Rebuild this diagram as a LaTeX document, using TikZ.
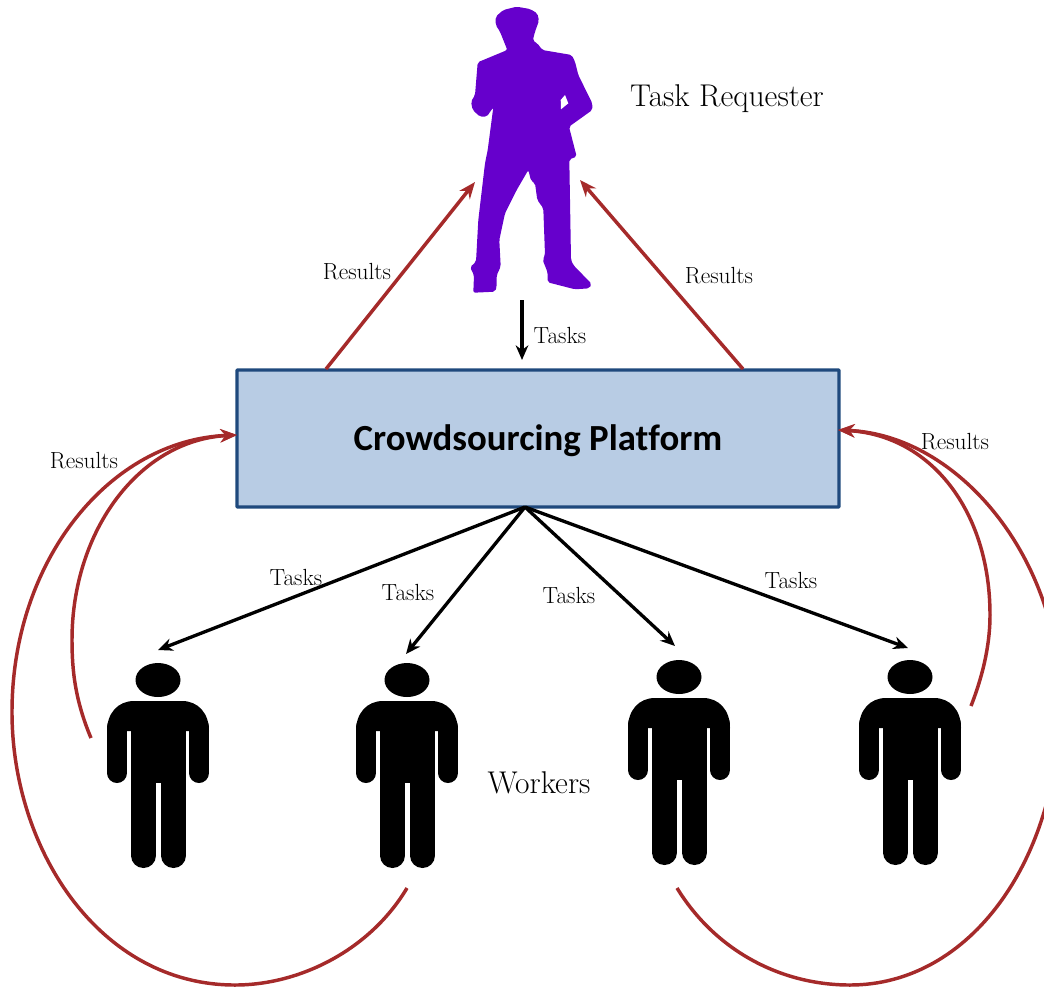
\documentclass[tikz,border=0pt]{standalone}
\usepackage{fontspec}
\newfontfamily\platformfont[Ligatures=NoCommon]{Carlito}
\usetikzlibrary{arrows.meta}
\definecolor{requesterviolet}{RGB}{102,0,204}
\definecolor{resultred}{RGB}{165,42,42}
\definecolor{platformfill}{RGB}{184,204,228}
\definecolor{platformrand}{RGB}{31,73,125}
\tikzset{
    taskpfeil/.style={line width=2.5pt, -{Stealth[length=11pt,width=9.5pt]}},
    resultpfeil/.style={line width=2.6pt, resultred, -{Stealth[length=12.5pt,width=10pt]}},
    klein/.style={font=\fontsize{17.5}{17.5}\selectfont},
    gross/.style={font=\fontsize{23.6}{23.6}\selectfont},
    worker/.pic={
        \fill (0,-21) ellipse [x radius=22.5, y radius=17];
        \fill (-51,30) .. controls (-51,12) and (-40,0) .. (-24,0) -- (24,0) .. controls (40,0) and (51,12) .. (51,30) -- cycle;
        \fill (-27,0) rectangle (28,82);
        \draw [line width=15pt, line cap=round] (-41,26) -- (-41,72);
        \draw [line width=15pt, line cap=round] (41,26) -- (41,72);
        \draw [line width=18.75pt, line cap=round] (-14.5,60) -- (-14.5,154.5);
        \draw [line width=18.75pt, line cap=round] (15.5,60) -- (15.5,154.5);
    }
}
\begin{document}
\begin{tikzpicture}[x=0.75pt, y=-0.75pt]

        \useasboundingbox (0,0) rectangle (1044,986);
        \clip (0,0) rectangle (1044,986);

        % Auftraggeber
        \fill [requesterviolet, rounded corners=1.5pt] (495.7,16.7) -- (503.3,10) -- (516.7,6.7) -- (530,9) -- (537.3,13.3) -- (539,20.7) -- (535,31.7) -- (532.7,40.7) -- (537.3,43.3) -- (542.3,50) -- (571.7,55) -- (575,61.7) -- (578.3,75) -- (592.3,103.3) -- (592.3,110) -- (569,126.7) -- (576.7,156.7) -- (569.3,159.3) -- (570,200) -- (571,260) -- (573.3,265) -- (591.7,284) -- (589.3,288.3) -- (575,289.3) -- (547.7,282.3) -- (547.7,272.7) -- (542.7,260) -- (545,255) -- (543.3,208.3) -- (537.3,200) -- (535,183.3) -- (531,180.7) -- (528.3,170) -- (516.7,190) -- (505,213.3) -- (499.3,240) -- (500.7,266.7) -- (496.7,275) -- (496.7,286.7) -- (495,291.7) -- (473.3,292.7) -- (474,275) -- (470,267.3) -- (476,261.7) -- (478.3,220) -- (485,163.3) -- (487.7,150) -- (493.3,107.3) -- (486.7,116.7) -- (480,116.7) -- (472.7,110) -- (471,101.7) -- (475,95) -- (477.7,62.3) -- (507.3,50) -- (500,31.7) -- (495.7,25) -- cycle;
        \fill [white] (565,95) -- (568.3,103.3) -- (561,109.3) -- (560.7,100) -- cycle;

        \node [draw=platformrand, line width=2.5pt, rounded corners=0.5pt, fill=platformfill, minimum width=451.5pt, minimum height=102.75pt, font=\platformfont\bfseries\fontsize{27.6}{27.6}\selectfont] (platform) at (538,438.5) {\raisebox{-9pt}[0pt][0pt]{Crowdsourcing Platform}};

        % Arbeiter
        \foreach \xpos/\ypos in {158/701, 407/701, 679/698, 910/698}
            \pic at (\xpos,\ypos) {worker};

        \coordinate (verteiler) at (525,507);
        \coordinate (requesterlinks) at (475,182);
        \coordinate (requesterrechts) at (580,180);
        \coordinate (requesterfuss) at (522,300);
        \coordinate (aufgabe) at (522,360);
        \coordinate (workerA) at (158,650);
        \coordinate (workerB) at (406,654);
        \coordinate (workerC) at (675,646);
        \coordinate (workerD) at (908,648);
        \coordinate (ergebnisA) at (91,738);
        \coordinate (ergebnisB) at (407,888);
        \coordinate (ergebnisC) at (677,888);
        \coordinate (ergebnisD) at (971,706);
        \coordinate (platformlinks) at (237,435);
        \coordinate (platformrechts) at (838,430);
        \coordinate (platformobenlinks) at (326,369);
        \coordinate (platformobenrechts) at (743,369);

        % Aufgaben
        \draw [taskpfeil] (requesterfuss) -- (aufgabe);
        \foreach \ziel in {workerA, workerB, workerC, workerD}
            \draw [taskpfeil] (verteiler) -- (\ziel);

        % Ergebnisse
        \draw [resultpfeil] (platformobenlinks) -- (requesterlinks);
        \draw [resultpfeil] (platformobenrechts) -- (requesterrechts);
        \draw [resultpfeil] (ergebnisA) .. controls (75,700) and (72,670) .. (72,640) .. controls (72,530) and (140,440) .. (platformlinks);
        \draw [resultpfeil] (ergebnisB) .. controls (370,950) and (300,985) .. (235,985) .. controls (100,985) and (12,850) .. (12,712) .. controls (12,560) and (110,440) .. (platformlinks);
        \draw [resultpfeil] (ergebnisD) .. controls (985,670) and (990,640) .. (990,615) .. controls (990,510) and (930,435) .. (platformrechts);
        \draw [resultpfeil] (ergebnisC) .. controls (715,950) and (780,985) .. (850,985) .. controls (970,985) and (1060,860) .. (1060,700) .. controls (1060,560) and (960,435) .. (platformrechts);

        % Beschriftung
        \foreach \xpos/\ypos/\name in {560/335/tasksA, 296/577/tasksB, 408/592/tasksC, 569/595/tasksD, 791/580/tasksE}
            \node [klein] (\name) at (\xpos,\ypos) {Tasks};
        \foreach \xpos/\ypos/\name in {357/272/resultsA, 719/276/resultsB, 84/461/resultsC, 955/442/resultsD}
            \node [klein] (\name) at (\xpos,\ypos) {Results};
        \node [gross] (requester) at (727,99) {Task Requester};
        \node [gross] (workers) at (539,783) {Workers};

\end{tikzpicture}
\end{document}
